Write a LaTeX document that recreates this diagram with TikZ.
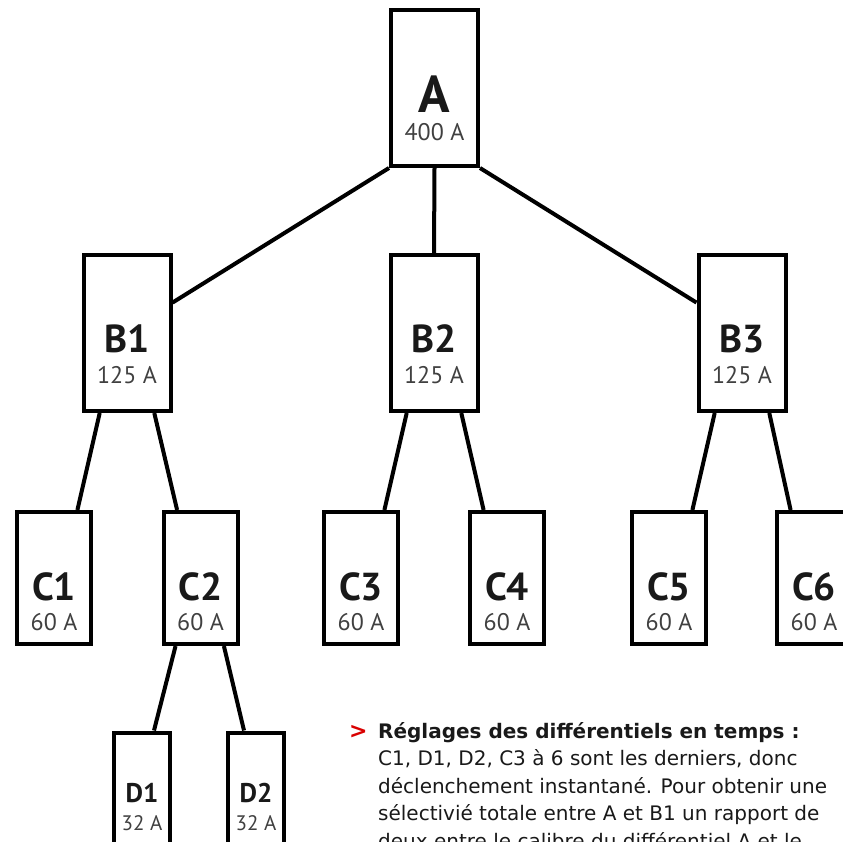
\documentclass[tikz,border=0pt]{standalone}
\usepackage{fontspec}
\setmainfont{PT Sans}
\newfontfamily\notefont{DejaVu Sans}
\usetikzlibrary{calc}
\tikzset{
  boxbig/.style={draw, line width=4pt, minimum width=87pt, minimum height=156pt, inner sep=0pt},
  boxmid/.style={draw, line width=4pt, minimum width=74pt, minimum height=132pt, inner sep=0pt},
  boxsmall/.style={draw, line width=4pt, minimum width=56pt, minimum height=115pt, inner sep=0pt},
  wire/.style={line width=4pt},
  namebig/.style={anchor=base, inner sep=0pt, text=black!90, font=\fontsize{52}{52}\selectfont\bfseries},
  namemid/.style={anchor=base, inner sep=0pt, text=black!90, font=\fontsize{39}{39}\selectfont\bfseries},
  namesmall/.style={anchor=base, inner sep=0pt, text=black!90, font=\fontsize{27}{27}\selectfont\bfseries},
  rating/.style={anchor=base, inner sep=0pt, text=black!75, font=\fontsize{24}{24}\selectfont},
  ratingsmall/.style={anchor=base, inner sep=0pt, text=black!75, font=\fontsize{21}{21}\selectfont},
  notetext/.style={anchor=north west, inner sep=0pt, align=left, text=black!90, font=\notefont\fontsize{20}{27.5}\selectfont},
}

\begin{document}
\begin{tikzpicture}[x=1pt,y=-1pt]
  \useasboundingbox (0,0) rectangle (843,841);
  \clip (0,0) rectangle (843,841);

  % Main breaker
  \node[boxbig] (A) at (434.5,88) {};
  \node[namebig] (Aname) at (434.5,112) {A};
  \node[rating] (Aamp) at (434.5,140) {400 A};

  % Second level
  \node[boxbig] (B1) at (127,333) {};
  \node[namemid] (B1name) at (127,352) {B1};
  \node[rating] (B1amp) at (127,383) {125 A};
  \node[boxbig] (B2) at (434,333) {};
  \node[namemid] (B2name) at (434,352) {B2};
  \node[rating] (B2amp) at (434,383) {125 A};
  \node[boxbig] (B3) at (742,333) {};
  \node[namemid] (B3name) at (742,352) {B3};
  \node[rating] (B3amp) at (742,383) {125 A};

  % Third level
  \node[boxmid] (C1) at (54,578) {};
  \node[namemid] (C1name) at (54,600) {C1};
  \node[rating] (C1amp) at (54,630) {60 A};
  \node[boxmid] (C2) at (200.5,578) {};
  \node[namemid] (C2name) at (200.5,600) {C2};
  \node[rating] (C2amp) at (200.5,630) {60 A};
  \node[boxmid] (C3) at (361,578) {};
  \node[namemid] (C3name) at (361,600) {C3};
  \node[rating] (C3amp) at (361,630) {60 A};
  \node[boxmid] (C4) at (507,578) {};
  \node[namemid] (C4name) at (507,600) {C4};
  \node[rating] (C4amp) at (507,630) {60 A};
  \node[boxmid] (C5) at (669,578) {};
  \node[namemid] (C5name) at (669,600) {C5};
  \node[rating] (C5amp) at (669,630) {60 A};
  \node[boxmid] (C6) at (814,578) {};
  \node[namemid] (C6name) at (814,600) {C6};
  \node[rating] (C6amp) at (814,630) {60 A};

  % Fourth level
  \node[boxsmall] (D1) at (142,790) {};
  \node[namesmall] (D1name) at (142,802) {D1};
  \node[ratingsmall] (D1amp) at (142,830) {32 A};
  \node[boxsmall] (D2) at (256,790) {};
  \node[namesmall] (D2name) at (256,802) {D2};
  \node[ratingsmall] (D2amp) at (256,830) {32 A};

  % Wiring
  \draw[wire] (A.south west) -- ($(B1.north east)!.31!(B1.south east)$);
  \draw[wire] (A.south) -- (B2.north);
  \draw[wire] (A.south east) -- ($(B3.north west)!.31!(B3.south west)$);
  \draw[wire] ($(B1.south west)!.2!(B1.south east)$) -- ($(C1.north west)!.8!(C1.north east)$);
  \draw[wire] ($(B1.south west)!.8!(B1.south east)$) -- ($(C2.north west)!.2!(C2.north east)$);
  \draw[wire] ($(B2.south west)!.2!(B2.south east)$) -- ($(C3.north west)!.8!(C3.north east)$);
  \draw[wire] ($(B2.south west)!.8!(B2.south east)$) -- ($(C4.north west)!.2!(C4.north east)$);
  \draw[wire] ($(B3.south west)!.2!(B3.south east)$) -- ($(C5.north west)!.8!(C5.north east)$);
  \draw[wire] ($(B3.south west)!.8!(B3.south east)$) -- ($(C6.north west)!.2!(C6.north east)$);
  \draw[wire] ($(C2.south west)!.18!(C2.south east)$) -- ($(D1.north west)!.7!(D1.north east)$);
  \draw[wire] ($(C2.south west)!.8!(C2.south east)$) -- ($(D2.north west)!.3!(D2.north east)$);

  % Note
  \node[anchor=base west, inner sep=0pt, text=red!85!black, font=\notefont\bfseries\fontsize{22}{22}\selectfont] (mark) at (349,738) {>};
  \node[notetext] (note) at (378,722) {\textbf{Réglages des différentiels en temps :}\\
    C1, D1, D2, C3 à 6 sont les derniers, donc\\
    déclenchement instantané. Pour obtenir une\\
    sélectivié totale entre A et B1 un rapport de\\
    deux entre le calibre du différentiel A et le};
\end{tikzpicture}
\end{document}
